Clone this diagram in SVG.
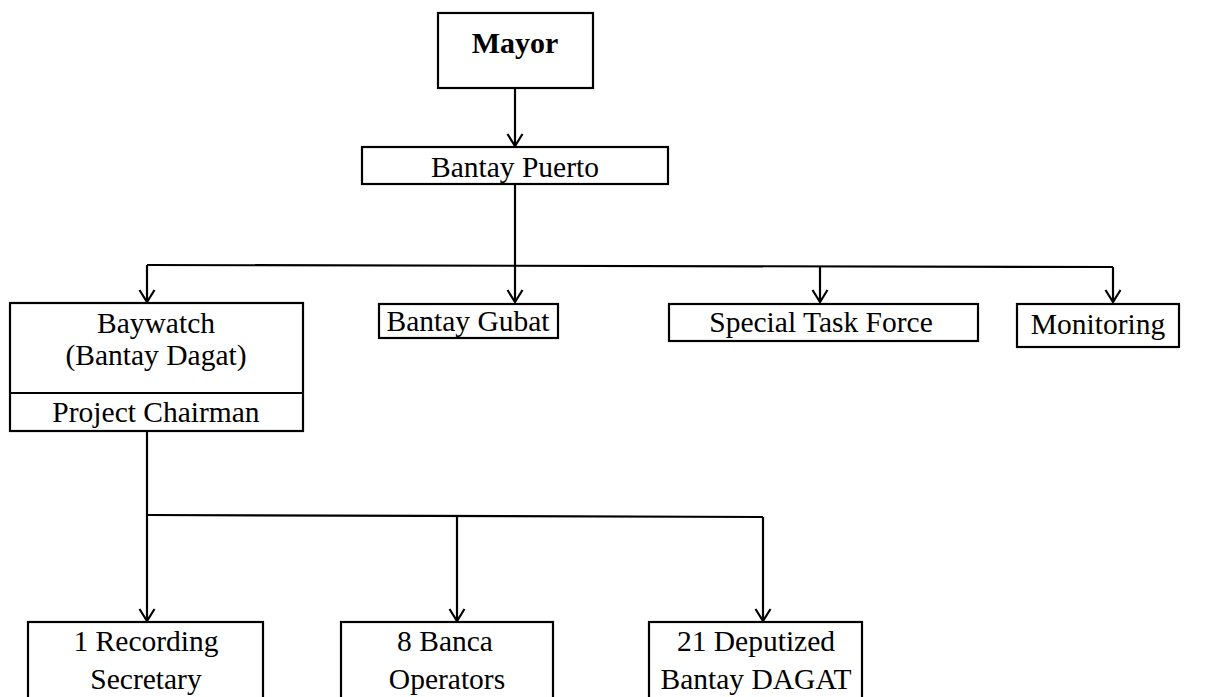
<svg xmlns="http://www.w3.org/2000/svg" width="1208" height="697" viewBox="0 0 1208 697">
  <style>
    .box { fill: #ffffff; stroke: #000000; stroke-width: 2.2; }
    .lbl { font-family: "Liberation Serif", "Times New Roman", serif; font-size: 29.5px; fill: #000000; text-anchor: middle; }
    .bold { font-weight: bold; font-size: 30px; }
    .wire { fill: none; stroke: #000000; stroke-width: 2.2; }
  </style>
  <defs>
    <!-- open V arrowhead, tip at the end of the line -->
    <marker id="vee" markerWidth="16" markerHeight="18" refX="14" refY="9" orient="auto" markerUnits="userSpaceOnUse" viewBox="0 0 16 18">
      <path d="M2,1.5 L14,9 L2,16.5" fill="none" stroke="#000000" stroke-width="2.2"/>
    </marker>
  </defs>
  <rect width="1208" height="697" fill="#ffffff"/>

  <!-- connectors -->
  <g id="connectors" class="wire">
    <path d="M515,88 V146" marker-end="url(#vee)"/>
    <path d="M515,184 V302" marker-end="url(#vee)"/>
    <path d="M147,265 L1113,267"/>
    <path d="M147,265 V302" marker-end="url(#vee)"/>
    <path d="M820,266 V302" marker-end="url(#vee)"/>
    <path d="M1113,267 V302" marker-end="url(#vee)"/>
    <path d="M147,431 V621" marker-end="url(#vee)"/>
    <path d="M147,515 L763,517"/>
    <path d="M457,516 V621" marker-end="url(#vee)"/>
    <path d="M763,517 V621" marker-end="url(#vee)"/>
  </g>

  <!-- top level -->
  <g id="mayor">
    <rect class="box" x="438" y="13" width="155" height="75"/>
    <text class="lbl bold" x="515" y="53">Mayor</text>
  </g>
  <g id="bantay-puerto">
    <rect class="box" x="362" y="147" width="306" height="37"/>
    <text class="lbl" x="515" y="177">Bantay Puerto</text>
  </g>

  <!-- second level -->
  <g id="baywatch">
    <rect class="box" x="10" y="303" width="293" height="128"/>
    <line class="wire" x1="10" y1="393" x2="303" y2="393"/>
    <text class="lbl" x="156" y="333">Baywatch</text>
    <text class="lbl" x="156" y="365">(Bantay Dagat)</text>
    <text class="lbl" x="156" y="422">Project Chairman</text>
  </g>
  <g id="bantay-gubat">
    <rect class="box" x="379" y="304" width="179" height="34"/>
    <text class="lbl" x="468" y="331">Bantay Gubat</text>
  </g>
  <g id="special-task-force">
    <rect class="box" x="669" y="304" width="309" height="37"/>
    <text class="lbl" x="821" y="332">Special Task Force</text>
  </g>
  <g id="monitoring">
    <rect class="box" x="1017" y="304" width="162" height="43"/>
    <text class="lbl" x="1098" y="334">Monitoring</text>
  </g>

  <!-- third level -->
  <g id="recording-secretary">
    <rect class="box" x="28" y="622" width="235" height="90"/>
    <text class="lbl" x="146" y="651">1 Recording</text>
    <text class="lbl" x="146" y="689">Secretary</text>
  </g>
  <g id="banca-operators">
    <rect class="box" x="341" y="622" width="212" height="90"/>
    <text class="lbl" x="445" y="651">8 Banca</text>
    <text class="lbl" x="447" y="689">Operators</text>
  </g>
  <g id="deputized-bantay-dagat">
    <rect class="box" x="649" y="622" width="213" height="90"/>
    <text class="lbl" x="756" y="651">21 Deputized</text>
    <text class="lbl" x="756" y="689">Bantay DAGAT</text>
  </g>
</svg>
